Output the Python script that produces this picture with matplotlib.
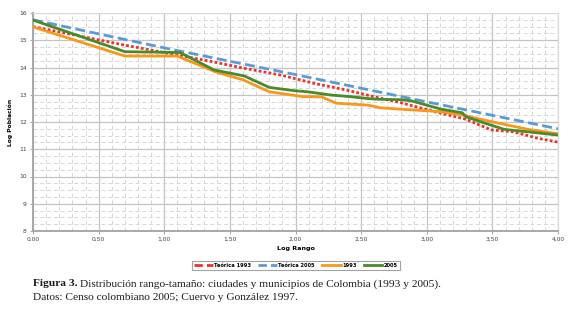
import matplotlib
matplotlib.use("Agg")
import matplotlib.pyplot as plt
from matplotlib.lines import Line2D
from matplotlib.ticker import MultipleLocator, FuncFormatter

# ---- data ----
x_teo1993 = [0.00, 0.70, 1.10, 1.38, 1.61, 1.89, 2.14, 2.39, 2.65, 2.80, 3.11, 3.30, 3.49, 3.66, 3.85, 4.00]
y_teo1993 = [15.50, 14.82, 14.46, 14.20, 13.97, 13.72, 13.42, 13.17, 12.87, 12.71, 12.32, 12.10, 11.71, 11.64, 11.40, 11.26]

x_teo2005 = [0.00, 1.00, 2.00, 3.00, 4.00]
y_teo2005 = [15.75, 14.72, 13.74, 12.74, 11.75]

x_1993 = [0.00, 0.70, 1.10, 1.39, 1.60, 1.80, 2.06, 2.20, 2.31, 2.55, 2.65, 2.80, 2.90, 3.11, 3.27, 3.41, 3.77, 4.00]
y_1993 = [15.49, 14.42, 14.42, 13.84, 13.55, 13.11, 12.93, 12.92, 12.69, 12.62, 12.52, 12.47, 12.44, 12.38, 12.26, 12.10, 11.73, 11.57]

x_2005 = [0.00, 0.70, 1.12, 1.38, 1.61, 1.80, 1.99, 2.09, 2.27, 2.42, 2.55, 2.65, 2.80, 2.88, 3.11, 3.27, 3.30, 3.41, 3.59, 3.77, 4.00]
y_2005 = [15.74, 14.58, 14.55, 13.91, 13.69, 13.27, 13.15, 13.11, 12.99, 12.93, 12.86, 12.83, 12.82, 12.78, 12.47, 12.34, 12.19, 12.01, 11.73, 11.64, 11.52]

series_labels = ["Teórica 1993", "Teórica 2005", "1993", "2005"]
x_ticks = [0.0, 0.5, 1.0, 1.5, 2.0, 2.5, 3.0, 3.5, 4.0]
y_ticks = [8, 9, 10, 11, 12, 13, 14, 15, 16]
x_label = "Log Rango"
y_label = "Log Población"
caption_bold = "Figura 3."
caption_1 = "Distribución rango-tamaño: ciudades y municipios de Colombia (1993 y 2005)."
caption_2 = "Datos: Censo colombiano 2005; Cuervo y González 1997."

# ---- styles ----
c_red = "#f0302a"
c_blue = "#5b9bd5"
c_orange = "#f7981d"
c_green = "#4a8a2a"
narrow = ["Liberation Sans Narrow", "DejaVu Sans"]
serif = ["Liberation Serif", "DejaVu Serif"]

W, H = 580, 309
fig = plt.figure(figsize=(W / 100, H / 100), dpi=100)
ax = fig.add_axes([33 / W, 1 - 231 / H, (558 - 33) / W, (231 - 13) / H])

ax.set_xlim(0, 4)
ax.set_ylim(8, 16)
ax.xaxis.set_major_locator(MultipleLocator(0.5))
ax.xaxis.set_minor_locator(MultipleLocator(0.1))
ax.yaxis.set_major_locator(MultipleLocator(1))
ax.yaxis.set_minor_locator(MultipleLocator(0.25))
ax.set_xticks(x_ticks)
ax.set_yticks(y_ticks)
ax.xaxis.set_major_formatter(FuncFormatter(lambda v, p: f"{v:.2f}".replace(".", ",")))
ax.yaxis.set_major_formatter(FuncFormatter(lambda v, p: f"{int(round(v))}"))

ax.grid(which="major", color="#c4c4c4", lw=0.9, ls="-", zorder=0)
ax.grid(which="minor", color="#d6d6d6", lw=0.7, ls=(0, (4, 3)), zorder=0)
ax.set_axisbelow(True)

for s in ["top", "right"]:
    ax.spines[s].set_color("#dadada")
    ax.spines[s].set_linewidth(0.8)
for s in ["left", "bottom"]:
    ax.spines[s].set_color("#a8a8a8")
    ax.spines[s].set_linewidth(1.4)

ax.tick_params(which="both", length=0)
ax.tick_params(which="major", axis="x", length=2.5, color="#a8a8a8", pad=2)
ax.tick_params(which="major", axis="y", length=2.5, color="#a8a8a8", pad=2)
for lab in ax.get_xticklabels() + ax.get_yticklabels():
    lab.set_fontfamily(narrow)
    lab.set_fontsize(4.3)
    lab.set_color("#404040")

ax.plot(x_teo2005, y_teo2005, color=c_blue, lw=2.0, ls=(0, (3.6, 1.6)), zorder=3)
ax.plot(x_teo1993, y_teo1993, color=c_red, lw=2.0, ls=(0, (1.0, 0.8)), zorder=4)
ax.plot(x_1993, y_1993, color=c_orange, lw=2.0, zorder=5, solid_joinstyle="round")
ax.plot(x_2005, y_2005, color=c_green, lw=2.0, zorder=6, solid_joinstyle="round")

ax.set_xlabel(x_label, fontsize=4.6, fontweight="bold", family=narrow, labelpad=3)
ax.set_ylabel(y_label, fontsize=4.3, fontweight="bold", family=narrow, labelpad=4)

handles = [
    Line2D([], [], color=c_red, lw=2.0, ls=(0, (3.0, 1.5))),
    Line2D([], [], color=c_blue, lw=2.0, ls=(0, (3.0, 1.5))),
    Line2D([], [], color=c_orange, lw=2.0),
    Line2D([], [], color=c_green, lw=2.0),
]
leg = fig.legend(handles, series_labels, loc="center", ncol=4,
                 bbox_to_anchor=((192 + 400) / 2 / W, 1 - 265.5 / H),
                 frameon=True, fancybox=False, handlelength=3.6, handletextpad=0.3,
                 columnspacing=1.4, borderpad=0.45,
                 prop={"family": narrow, "size": 3.7, "weight": "bold"})
leg.get_frame().set_edgecolor("#8c8c8c")
leg.get_frame().set_linewidth(0.8)

t = fig.text(33 / W, 1 - 284 / H, caption_bold, fontsize=8.2, fontweight="bold",
             family=serif, va="center", ha="left", color="#1a1a1a")
fig.canvas.draw()
bb = t.get_window_extent()
fig.text((bb.x1 + 3) / W, 1 - 284 / H, caption_1, fontsize=8.2, family=serif,
         va="center", ha="left", color="#1a1a1a")
fig.text(33 / W, 1 - 298 / H, caption_2, fontsize=8.2, family=serif,
         va="center", ha="left", color="#1a1a1a")

fig.savefig("out.png", dpi=100)
